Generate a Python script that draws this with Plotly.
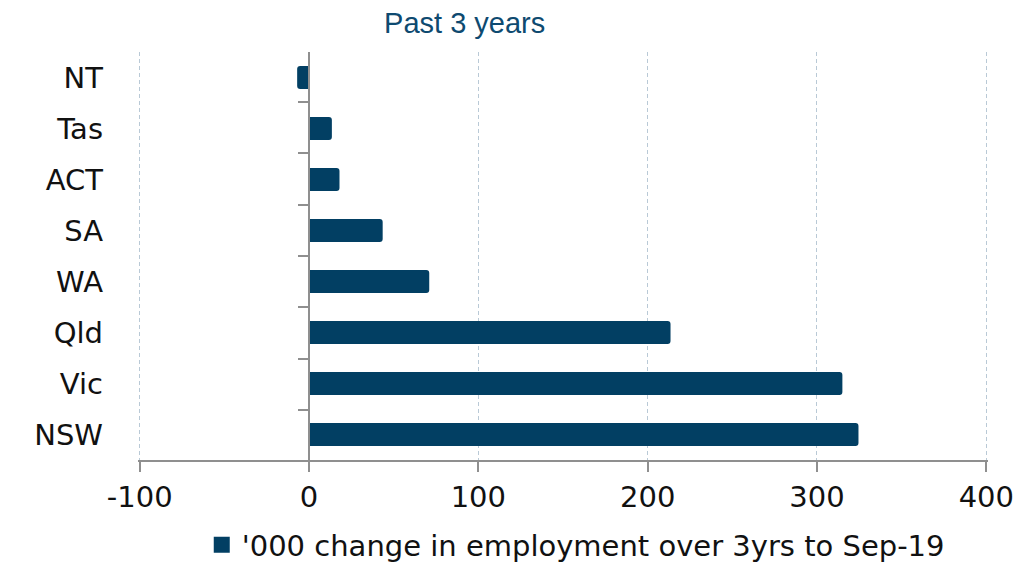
import plotly.graph_objects as go

# Data (bottom to top, as Plotly places the first category at the bottom)
states = ["NSW", "Vic", "Qld", "WA", "SA", "ACT", "Tas", "NT"]
change_000 = [324.5, 315, 213.5, 71, 43.5, 18, 13.5, -7]
series_name = "'000 change in employment over 3yrs to Sep-19"
title_text = "Past 3 years"
x_ticks = [-100, 0, 100, 200, 300, 400]

NAVY = "#023f63"
GRID = "#b9c9d6"
AXIS = "#8f8f8f"
FONT = "DejaVu Sans, Verdana, sans-serif"

x_range = [-101, 401]
zero_pos = (0 - x_range[0]) / (x_range[1] - x_range[0])

fig = go.Figure()
fig.add_trace(go.Bar(
    y=states, x=change_000, orientation="h", name=series_name,
    marker=dict(color=NAVY, cornerradius=3, line=dict(width=0)),
    showlegend=False,
))
# legend entry with a larger square swatch
fig.add_trace(go.Scatter(
    x=[None], y=[None], mode="markers", name=series_name,
    marker=dict(symbol="square", size=19, color=NAVY), showlegend=True,
))
# invisible helper trace so the category axis drawn at x=0 exists
fig.add_trace(go.Scatter(
    y=states, x=[0] * len(states), yaxis="y2", mode="markers",
    marker=dict(opacity=0), hoverinfo="skip", showlegend=False,
))

fig.update_layout(
    width=1028, height=562,
    margin=dict(l=138, r=40, t=52, b=102, autoexpand=False),
    paper_bgcolor="white", plot_bgcolor="white",
    bargap=0.55,
    title=dict(text=title_text, x=0.452, xanchor="center", xref="container",
               y=1 - 23 / 562, yanchor="middle", yref="container",
               font=dict(family="Liberation Sans, Arial, sans-serif", size=29, color="#0e4a70")),
    xaxis=dict(
        range=x_range, tickvals=x_ticks, ticktext=[str(v) for v in x_ticks],
        showgrid=True, gridcolor=GRID, griddash="4px,3px", gridwidth=1,
        zeroline=False, automargin=False,
        showline=True, linecolor=AXIS, linewidth=1.5,
        ticks="outside", ticklen=10, tickcolor=AXIS, tickwidth=1.5,
        tickfont=dict(family=FONT, size=29, color="#111111"),
    ),
    yaxis=dict(
        type="category", categoryorder="array", categoryarray=states,
        showgrid=False, zeroline=False, showline=False, ticks="",
        ticklabelstandoff=34, automargin=False,
        tickfont=dict(family=FONT, size=29, color="#111111"),
    ),
    yaxis2=dict(
        type="category", categoryorder="array", categoryarray=states,
        overlaying="y", anchor="free", position=zero_pos, side="left",
        showgrid=False, zeroline=False, automargin=False,
        showline=True, linecolor=AXIS, linewidth=2,
        ticks="outside", tickson="boundaries", ticklen=10, tickcolor=AXIS, tickwidth=1.5,
        showticklabels=False,
    ),
    legend=dict(orientation="h", x=0.515, xanchor="center", y=-(545 - 460) / 408, yanchor="middle",
                font=dict(family=FONT, size=29, color="#111111"),
                itemwidth=30, bgcolor="rgba(0,0,0,0)", borderwidth=0),
)

# remove the default 8px page margin so the figure fills the window exactly
fig.write_html("out.html", config={"displayModeBar": False},
               post_script="document.body.style.margin='0';")
